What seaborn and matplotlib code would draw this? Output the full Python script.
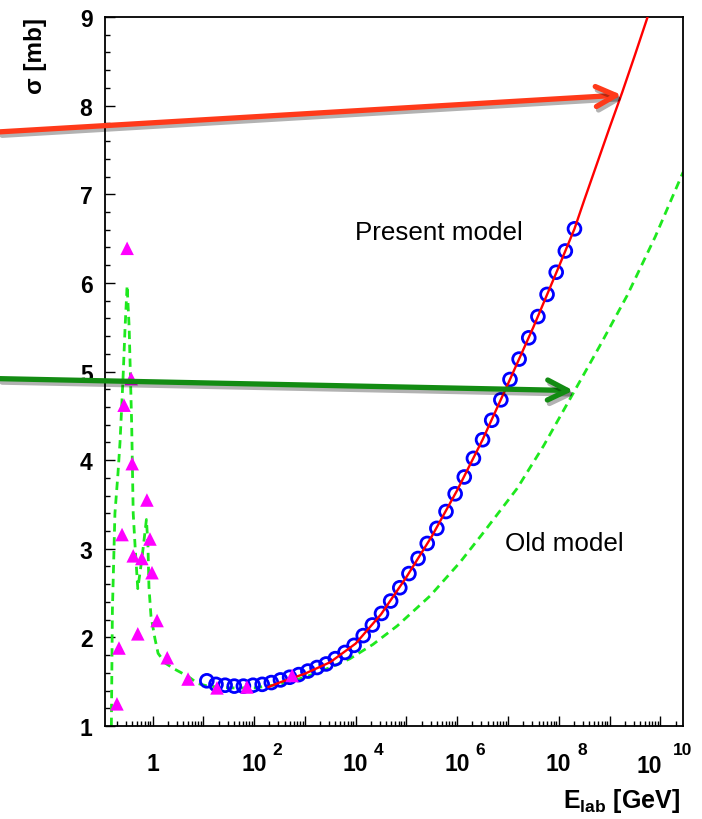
import numpy as np
import pandas as pd
import seaborn as sns
import matplotlib
matplotlib.use("Agg")
import matplotlib.pyplot as plt
from matplotlib import patheffects as pe
from matplotlib.ticker import LogLocator, MultipleLocator, NullFormatter

# ---------------- data (log10 of E_lab in GeV, sigma in mb) ----------------
tri_log10E = [-0.70, -0.66, -0.60, -0.50, -0.56, -0.42, -0.40, -0.38, -0.29, -0.21,
              -0.11, -0.05, -0.01, 0.09, 0.29, 0.70, 1.27, 1.86, 2.75]
tri_sigma = [1.25, 1.88, 3.16, 6.39, 4.62, 4.92, 3.96, 2.92, 2.04, 2.89,
             3.55, 3.11, 2.73, 2.19, 1.77, 1.53, 1.43, 1.44, 1.57]

circ_log10E = [1.07, 1.25, 1.43, 1.61, 1.79, 1.98, 2.16, 2.34, 2.52, 2.70,
               2.88, 3.06, 3.24, 3.42, 3.60, 3.79, 3.97, 4.15, 4.33, 4.51,
               4.69, 4.87, 5.05, 5.23, 5.41, 5.60, 5.78, 5.96, 6.14, 6.32,
               6.50, 6.68, 6.86, 7.04, 7.22, 7.41, 7.59, 7.77, 7.95, 8.13, 8.31]
circ_sigma = [1.51, 1.47, 1.46, 1.45, 1.45, 1.46, 1.47, 1.49, 1.52, 1.55,
              1.58, 1.62, 1.66, 1.70, 1.76, 1.83, 1.91, 2.02, 2.14, 2.27,
              2.41, 2.56, 2.72, 2.89, 3.06, 3.23, 3.42, 3.62, 3.81, 4.02,
              4.23, 4.45, 4.68, 4.91, 5.14, 5.38, 5.62, 5.87, 6.12, 6.36, 6.61]

present_log10E = [2.28, 2.5, 3.0, 3.5, 4.0, 4.5, 5.0, 5.5, 6.0, 6.5,
                  7.0, 7.5, 8.0, 8.31, 8.5, 9.0, 9.25, 9.5, 9.75]
present_sigma = [1.44, 1.49, 1.59, 1.72, 1.93, 2.26, 2.68, 3.14, 3.66, 4.23,
                 4.86, 5.50, 6.18, 6.61, 6.93, 7.75, 8.15, 8.57, 9.00]

old_log10E = [-0.81, -0.79, -0.74, -0.68, -0.64, -0.58, -0.54, -0.50, -0.46, -0.41,
              -0.38, -0.34, -0.29, -0.21, -0.12, -0.09, -0.07, -0.03, 0.05, 0.11,
              0.25, 0.44, 0.70, 0.89, 1.09, 1.5, 2.0, 2.5, 3.0, 3.5,
              3.89, 4.34, 4.82, 5.47, 6.06, 6.5, 7.18, 7.7, 8.29, 8.8,
              9.35, 9.9, 10.45]
old_sigma = [1.0, 2.3, 3.4, 3.85, 4.2, 4.93, 5.5, 5.97, 5.5, 4.4,
             3.4, 3.0, 2.55, 2.88, 3.33, 3.05, 2.57, 2.24, 1.98, 1.82,
             1.71, 1.64, 1.56, 1.48, 1.45, 1.43, 1.43, 1.47, 1.55, 1.66,
             1.76, 1.92, 2.13, 2.47, 2.85, 3.17, 3.68, 4.16, 4.76, 5.28,
             5.86, 6.52, 7.25]

x_label_decades = [0, 2, 4, 6, 8, 10]
x_label_exps = ["", "2", "4", "6", "8", "10"]
y_ticks = [1, 2, 3, 4, 5, 6, 7, 8, 9]

tri = pd.DataFrame({"E": 10 ** np.array(tri_log10E), "sigma": tri_sigma})
circ = pd.DataFrame({"E": 10 ** np.array(circ_log10E), "sigma": circ_sigma})
present = pd.DataFrame({"E": 10 ** np.array(present_log10E), "sigma": present_sigma})
old = pd.DataFrame({"E": 10 ** np.array(old_log10E), "sigma": old_sigma})

# ---------------- style ----------------
sns.set_theme(style="white")
plt.rcParams["font.family"] = ["Liberation Sans", "DejaVu Sans"]
plt.rcParams["mathtext.fontset"] = "custom"
plt.rcParams["mathtext.rm"] = "Liberation Sans:bold"
plt.rcParams["mathtext.bf"] = "Liberation Sans:bold"
plt.rcParams["mathtext.it"] = "Liberation Sans:bold"
for k in ["text.color", "axes.labelcolor", "xtick.color", "ytick.color",
          "xtick.labelcolor", "ytick.labelcolor"]:
    plt.rcParams[k] = "black"

fig = plt.figure(figsize=(7.02, 8.2), dpi=100)
fig.patch.set_facecolor("white")
ax = fig.add_axes([0.14957, 0.11341, 0.82336, 0.86463])
ax.set_facecolor("white")
ax.set_xscale("log")

sns.lineplot(data=old, x="E", y="sigma", ax=ax, color="#1ee81e", lw=2.0,
             linestyle=(0, (3.0, 2.0)), sort=False, estimator=None, zorder=2)
sns.scatterplot(data=circ, x="E", y="sigma", ax=ax, marker="o", s=85,
                zorder=3)
circ_coll = ax.collections[-1]
circ_coll.set_facecolor("none")
circ_coll.set_edgecolor("#0000ff")
circ_coll.set_linewidth(2.0)
sns.lineplot(data=present, x="E", y="sigma", ax=ax, color="#ff0000", lw=1.7,
             sort=False, estimator=None, zorder=4)
sns.scatterplot(data=tri, x="E", y="sigma", ax=ax, marker="^", s=95,
                color="#ff00ff", edgecolor="none", zorder=5)

ax.set_xlim(0.116, 2.8e10)
ax.set_ylim(1, 9)

# ticks
ax.xaxis.set_major_locator(LogLocator(base=10, numticks=20))
ax.xaxis.set_minor_locator(LogLocator(base=10, subs=np.arange(2, 10), numticks=200))
ax.xaxis.set_minor_formatter(NullFormatter())
decades = list(range(0, 11))
labels = []
for d in decades:
    if d == 0:
        labels.append("1")
    elif d in x_label_decades and d != 10:
        labels.append("10")
    else:
        labels.append("")
ax.set_xticks([10.0 ** d for d in decades], labels=labels)
ax.yaxis.set_major_locator(MultipleLocator(1))
ax.yaxis.set_minor_locator(MultipleLocator(0.2))
ax.set_yticks(y_ticks, labels=[str(v) for v in y_ticks])

ax.tick_params(axis="both", which="major", direction="in", length=7.5, width=1.0,
               color="black", labelcolor="black", bottom=True, left=True,
               top=False, right=False, labelsize=16.5)
ax.tick_params(axis="both", which="minor", direction="in", length=3.8, width=1.0,
               color="black", bottom=True, left=True, top=False, right=False)
ax.tick_params(axis="x", which="major", pad=18.5)
ax.tick_params(axis="y", which="major", pad=9)
for lab in ax.get_xticklabels() + ax.get_yticklabels():
    lab.set_fontweight("bold")

# superscripts of x tick labels and the shifted 10^10 label
for d, e in zip(x_label_decades, x_label_exps):
    if not e:
        continue
    if d == 10:
        ax.annotate("10", xy=(10.0 ** d, 0), xycoords=("data", "axes fraction"),
                    xytext=(-7.6, -33.2), textcoords="offset points",
                    ha="center", va="baseline", fontsize=16.5, fontweight="bold",
                    annotation_clip=False)
        ax.annotate(e, xy=(10.0 ** d, 0), xycoords=("data", "axes fraction"),
                    xytext=(9.4, -20.3), textcoords="offset points",
                    ha="left", va="baseline", fontsize=12.5, fontweight="bold",
                    annotation_clip=False)
    else:
        ax.annotate(e, xy=(10.0 ** d, 0), xycoords=("data", "axes fraction"),
                    xytext=(13.2, -20.3), textcoords="offset points",
                    ha="left", va="baseline", fontsize=12.5, fontweight="bold",
                    annotation_clip=False)

for s in ax.spines.values():
    s.set_visible(True)
    s.set_color("black")
    s.set_linewidth(1.3)

# axis labels
ax.set_ylabel("σ [mb]", loc="top", fontsize=17.5, fontweight="bold", color="black")
ax.yaxis.set_label_coords(-0.100, 1.0)
ax.set_xlabel(r"$\mathbf{E_{lab}}$ [GeV]", loc="right", fontsize=18,
              fontweight="bold", color="black")
ax.xaxis.set_label_coords(0.995, -0.085)

# model labels
ax.text(10 ** 3.99, 6.57, "Present model", fontsize=18.7, ha="left", va="center",
        color="black")
ax.text(10 ** 6.95, 3.07, "Old model", fontsize=18.7, ha="left", va="center",
        color="black")

# arrows (overlay annotations)
shadow = [pe.SimpleLineShadow(offset=(1.5, -2.5), alpha=0.3, shadow_color="black"),
          pe.Normal()]
a1 = ax.annotate("", xy=(10 ** 9.24, 8.12), xycoords="data",
                 xytext=(0.0, 0.838), textcoords="figure fraction",
                 arrowprops=dict(arrowstyle="->,head_length=0.9,head_width=0.45",
                                 color="#ff3a1a", lw=3.8, shrinkA=0, shrinkB=0,
                                 mutation_scale=16),
                 annotation_clip=False, zorder=10)
a1.arrow_patch.set_path_effects(shadow)
a2 = ax.annotate("", xy=(10 ** 8.29, 4.785), xycoords="data",
                 xytext=(0.0, 0.537), textcoords="figure fraction",
                 arrowprops=dict(arrowstyle="->,head_length=0.9,head_width=0.45",
                                 color="#138c13", lw=3.8, shrinkA=0, shrinkB=0,
                                 mutation_scale=16),
                 annotation_clip=False, zorder=10)
a2.arrow_patch.set_path_effects(shadow)

fig.savefig("out.png", dpi=100)
